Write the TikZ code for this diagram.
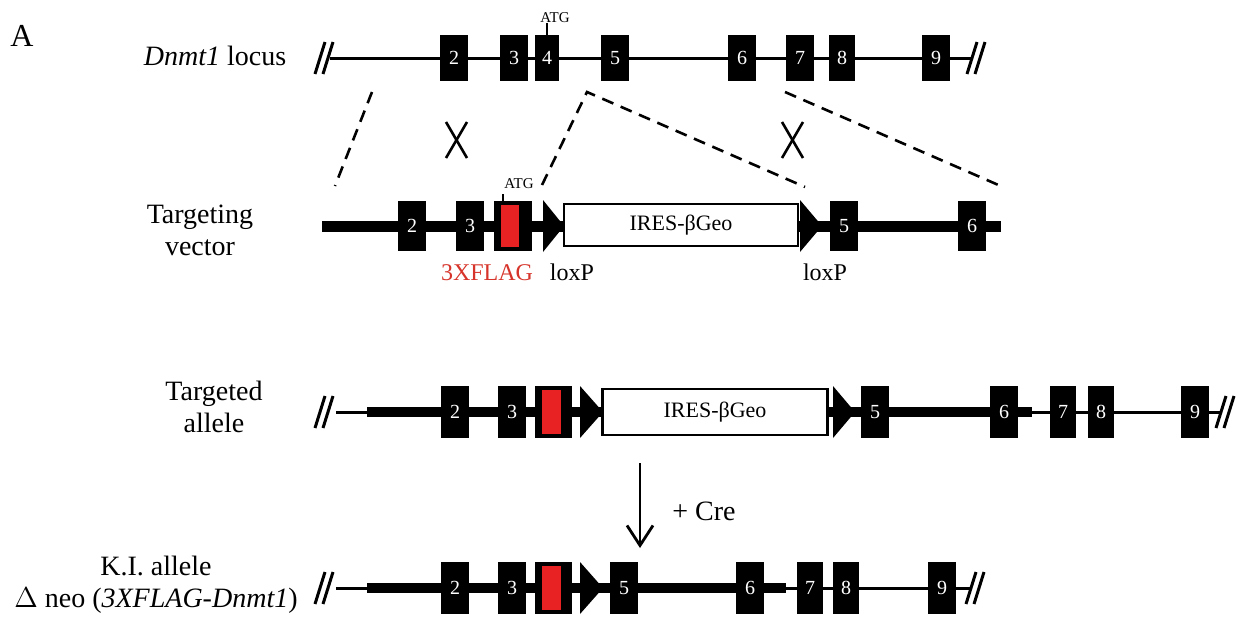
\documentclass[tikz,border=0pt]{standalone}
\usepackage{fontspec}
\setmainfont{Liberation Serif}
\usetikzlibrary{arrows.meta,positioning}
\definecolor{flagred}{RGB}{232,34,34}
\definecolor{flagtext}{RGB}{214,52,42}

\begin{document}
\begin{tikzpicture}[
  x=0.5pt,y=-0.5pt,
  exon/.style={rectangle,fill=black,text=white,inner sep=0pt,minimum width=14pt,minimum height=26pt,font=\fontsize{10}{10}\selectfont},
  flagbox/.style={rectangle,fill=black,inner sep=0pt,minimum width=18.5pt,minimum height=26pt},
  flagtag/.style={rectangle,fill=flagred,inner sep=0pt,minimum width=9.5pt,minimum height=22pt},
  cassette/.style={rectangle,draw,line width=1.3pt,fill=white,inner sep=0pt,minimum height=22pt,font=\fontsize{11}{12}\selectfont},
  intron/.style={line width=1.5pt},
  arm/.style={line width=5.2pt},
  brk/.style={line width=1.5pt},
  cross/.style={line width=1.3pt},
  homology/.style={line width=1.3pt,dash pattern=on 6pt off 4pt},
  rowlabel/.style={align=center,font=\fontsize{14}{16}\selectfont,inner sep=0pt},
  atg/.style={font=\fontsize{7.5}{8}\selectfont,inner sep=0pt},
  tag/.style={font=\fontsize{12}{13}\selectfont,inner sep=0pt},
  arrow/.style={-{Straight Barb[length=10pt,width=13pt]},line width=1.4pt}
]
  \useasboundingbox (0,0) rectangle (1253,618);

  % wild-type locus
  \node[anchor=base west,font=\fontsize{16}{18}\selectfont,inner sep=0pt] (panel) at (10,46) {A};
  \node[rowlabel,anchor=base] (locus) at (215,65) {\textit{Dnmt1} locus};
  \coordinate (locL) at (330,58);
  \coordinate (locR) at (972,58);
  \draw[intron] (locL) -- (locR);
  \draw[brk] (315,74) -- (325,42);
  \draw[brk] (323,74) -- (333,42);
  \draw[brk] (967,74) -- (977,42);
  \draw[brk] (975,74) -- (985,42);
  \node[exon,minimum height=23pt] (l2) at (454,58) {2};
  \node[exon,minimum height=23pt] (l3) at (514,58) {3};
  \node[exon,minimum height=23pt,minimum width=12pt] (l4) at (547,58) {4};
  \node[exon,minimum height=23pt] (l5) at (615,58) {5};
  \node[exon,minimum height=23pt] (l6) at (742,58) {6};
  \node[exon,minimum height=23pt] (l7) at (800,58) {7};
  \node[exon,minimum height=23pt,minimum width=13pt] (l8) at (842,58) {8};
  \node[exon,minimum height=23pt] (l9) at (936,58) {9};
  \node[atg,anchor=base] (atg1) at (555,22) {ATG};
  \draw[line width=1pt] (l4.north) -- (l4.north |- atg1.south);

  % homologous arms
  \coordinate (h1a) at (372,92);
  \coordinate (h1b) at (335,186);
  \coordinate (h2a) at (587,92);
  \coordinate (h2b) at (542,185);
  \coordinate (h3b) at (805,187);
  \coordinate (h4a) at (785,92);
  \coordinate (h4b) at (1003,187);
  \draw[homology] (h1a) -- (h1b);
  \draw[homology] (h2b) -- (h2a) -- (h3b);
  \draw[homology] (h4a) -- (h4b);
  \draw[cross] (446,122) -- (467,158);
  \draw[cross] (467,122) -- (446,158);
  \draw[cross] (782,122) -- (803,158);
  \draw[cross] (803,122) -- (782,158);

  % targeting vector
  \node[rowlabel,anchor=base] (vector) at (200,255) {Targeting\\vector};
  \coordinate (vecL) at (322,226);
  \coordinate (vecR) at (1001,226);
  \draw[arm,line width=5.5pt] (vecL) -- (vecR);
  \node[exon,minimum height=25pt] (v2) at (412,226) {2};
  \node[exon,minimum height=25pt] (v3) at (470,226) {3};
  \node[flagbox,minimum height=25pt,minimum width=19pt] (v4) at (513,226) {};
  \node[flagtag,minimum height=21pt,minimum width=9pt] (vflag) at (510,226) {};
  \fill (543,200) -- (564,226) -- (543,252) -- cycle;
  \node[cassette,minimum width=117pt,minimum height=21pt] (vcas) at (681,225) {IRES-βGeo};
  \fill (800,200) -- (822,226) -- (800,252) -- cycle;
  \node[exon,minimum height=25pt] (v5) at (844,226) {5};
  \node[exon,minimum height=25pt] (v6) at (972,226) {6};
  \node[atg,anchor=base] (atg2) at (519,188) {ATG};
  \draw[line width=1pt] (v4.north -| vflag.west) ++(2,0) -- ++(0,-7);
  \node[tag,text=flagtext,anchor=base] (flag) at (487,280) {3XFLAG};
  \node[tag,anchor=base] (lox1) at (572,280) {loxP};
  \node[tag,anchor=base] (lox2) at (825,280) {loxP};

  % targeted allele
  \node[rowlabel,anchor=base] (targeted) at (214,432) {Targeted\\allele};
  \coordinate (talL) at (336,412);
  \coordinate (talA) at (367,412);
  \coordinate (talB) at (1032,412);
  \coordinate (talR) at (1222,412);
  \draw[intron] (talL) -- (talR);
  \draw[arm] (talA) -- (talB);
  \draw[brk] (315,428) -- (325,396);
  \draw[brk] (323,428) -- (333,396);
  \draw[brk] (1216,428) -- (1226,396);
  \draw[brk] (1224,428) -- (1234,396);
  \node[exon] (t2) at (455,412) {2};
  \node[exon] (t3) at (512,412) {3};
  \node[flagbox] (t4) at (553,412) {};
  \node[flagtag] (tflag) at (551,412) {};
  \fill (580,386) -- (603,412) -- (580,438) -- cycle;
  \node[cassette,minimum width=112.5pt,minimum height=23pt] (tcas) at (715,412) {IRES-βGeo};
  \fill (833,386) -- (855,412) -- (833,438) -- cycle;
  \node[exon] (t5) at (875,412) {5};
  \node[exon] (t6) at (1004,412) {6};
  \node[exon,minimum width=13pt] (t7) at (1063,412) {7};
  \node[exon,minimum width=13pt] (t8) at (1101,412) {8};
  \node[exon] (t9) at (1195,412) {9};

  % Cre excision
  \coordinate (creTop) at (640,463);
  \coordinate (creBot) at (640,548);
  \draw[arrow] (creTop) -- (creBot);
  \node[rowlabel,anchor=base west] (cre) at (672,520) {+ Cre};

  % knock-in allele
  \node[rowlabel,anchor=base] (kiallele) at (156,607) {K.I. allele\\$\Delta$ neo (\textit{3XFLAG-Dnmt1})};
  \coordinate (kiL) at (336,588);
  \coordinate (kiA) at (367,588);
  \coordinate (kiB) at (786,588);
  \coordinate (kiR) at (972,588);
  \draw[intron] (kiL) -- (kiR);
  \draw[arm] (kiA) -- (kiB);
  \draw[brk] (315,604) -- (325,572);
  \draw[brk] (323,604) -- (333,572);
  \draw[brk] (966,604) -- (976,572);
  \draw[brk] (974,604) -- (984,572);
  \node[exon] (k2) at (455,588) {2};
  \node[exon] (k3) at (512,588) {3};
  \node[flagbox] (k4) at (553,588) {};
  \node[flagtag] (kflag) at (551,588) {};
  \fill (580,562) -- (603,588) -- (580,614) -- cycle;
  \node[exon] (k5) at (624,588) {5};
  \node[exon] (k6) at (750,588) {6};
  \node[exon,minimum width=13pt] (k7) at (810,588) {7};
  \node[exon,minimum width=13pt] (k8) at (846,588) {8};
  \node[exon] (k9) at (942,588) {9};
\end{tikzpicture}
\end{document}
